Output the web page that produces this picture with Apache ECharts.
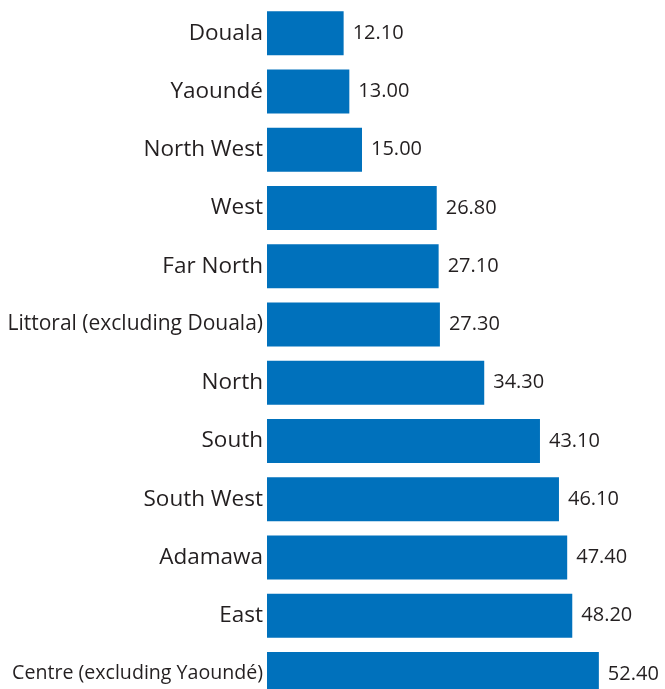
<!DOCTYPE html>
<html>
<head>
<meta charset="utf-8">
<script src="https://cdn.jsdelivr.net/npm/echarts@6/dist/echarts.min.js"></script>
<style>
html,body{margin:0;padding:0;background:#fff;}
#chart{width:665px;height:689px;}
</style>
</head>
<body>
<div id="chart"></div>
<script>
var categories = ["Douala", "Yaoundé", "North West", "West", "Far North", "Littoral (excluding Douala)", "North", "South", "South West", "Adamawa", "East", "Centre (excluding Yaoundé)"];
var values = [12.10, 13.00, 15.00, 26.80, 27.10, 27.30, 34.30, 43.10, 46.10, 47.40, 48.20, 52.40];

var textColor = "#231f20";
var barColor = "#0071bc";

var catData = categories.map(function (c) {
  var fs = 22.5;
  if (c.indexOf("Littoral") === 0) fs = 21;
  if (c.indexOf("Centre") === 0) fs = 19.6;
  return { value: c, textStyle: { fontSize: fs } };
});

var chart = echarts.init(document.getElementById("chart"), null, { renderer: "canvas" });
chart.setOption({
  animation: false,
  backgroundColor: "#ffffff",
  grid: { left: 267, top: 4, right: 18, bottom: -14, containLabel: false, outerBoundsMode: "none" },
  xAxis: {
    type: "value", min: 0, max: 60, show: false
  },
  yAxis: {
    type: "category",
    inverse: true,
    data: catData,
    axisLine: { show: false },
    axisTick: { show: false },
    splitLine: { show: false },
    axisLabel: {
      color: textColor,
      fontFamily: "Open Sans",
      fontSize: 22.5,
      margin: 4,
      padding: [0, 0, 4, 0]
    }
  },
  series: [{
    type: "bar",
    data: values,
    barWidth: 44,
    itemStyle: { color: barColor },
    label: {
      show: true,
      position: "right",
      distance: 9,
      color: textColor,
      fontFamily: "Open Sans",
      fontSize: 20,
      padding: [0, 0, 4, 0],
      formatter: function (p) { return p.value.toFixed(2); }
    }
  }]
});
</script>
</body>
</html>
